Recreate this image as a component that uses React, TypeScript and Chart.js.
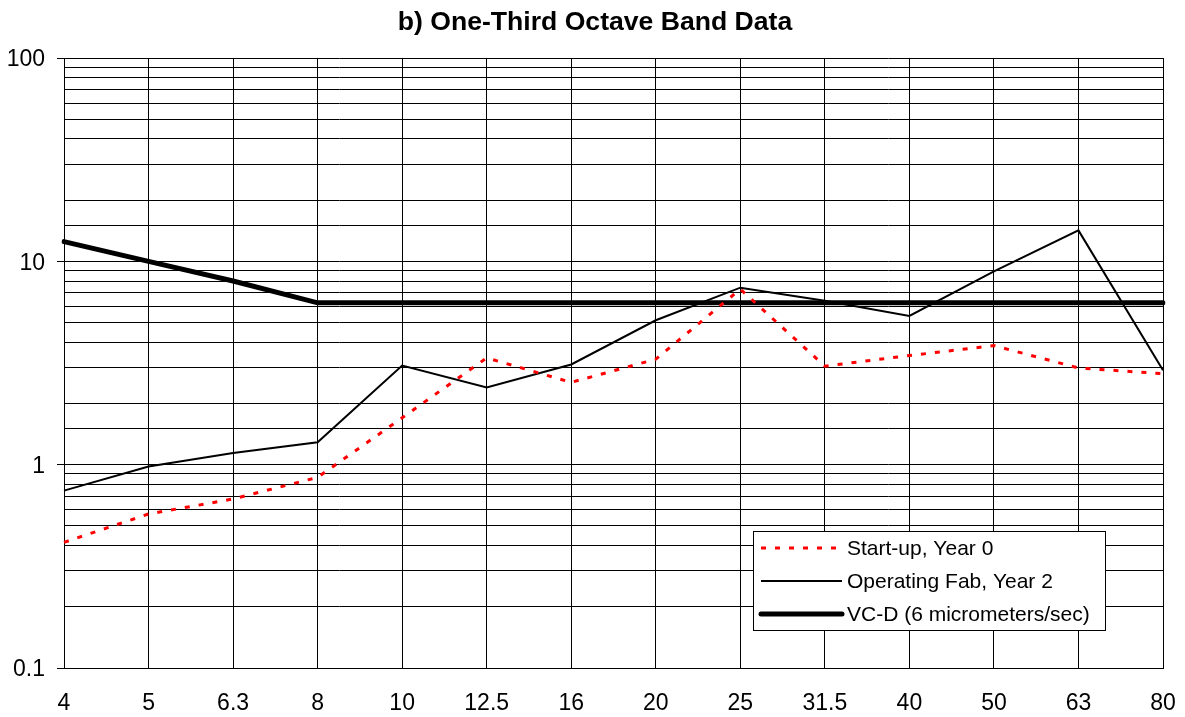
import React, { useEffect, useRef } from "react";
import { Chart, registerables } from "chart.js";

Chart.register(...registerables);

const TITLE = "b) One-Third Octave Band Data";
const frequencies = ["4", "5", "6.3", "8", "10", "12.5", "16", "20", "25", "31.5", "40", "50", "63", "80"];
const startUpYear0 = [0.415, 0.572, 0.678, 0.866, 1.7, 3.35, 2.54, 3.3, 7.3, 3.05, 3.44, 3.85, 2.99, 2.8];
const operatingFabYear2 = [0.745, 0.98, 1.14, 1.29, 3.07, 2.4, 3.11, 5.13, 7.42, 6.4, 5.39, 8.93, 14.2, 2.91];
const vcD = [12.5, 10, 8, 6.25, 6.25, 6.25, 6.25, 6.25, 6.25, 6.25, 6.25, 6.25, 6.25, 6.25];
const seriesNames = ["Start-up, Year 0", "Operating Fab, Year 2", "VC-D (6 micrometers/sec)"];
const yMin = 0.1;
const yMax = 100;

const FONT = "'Liberation Sans', Arial, Helvetica, sans-serif";

const isDecade = (v: number) => {
  const l = Math.log10(v);
  return Math.abs(l - Math.round(l)) < 1e-6;
};

const overlayPlugin = {
  id: "overlay",
  afterDraw(chart: any) {
    const ctx = chart.ctx as CanvasRenderingContext2D;
    ctx.save();
    // Title
    ctx.fillStyle = "#000";
    ctx.font = `bold 26.6px ${FONT}`;
    ctx.textAlign = "center";
    ctx.textBaseline = "middle";
    ctx.fillText(TITLE, 595, 23);

    // Legend
    const bx = 753.5, by = 531.5, bw = 352, bh = 99;
    ctx.fillStyle = "#fff";
    ctx.fillRect(bx, by, bw, bh);
    ctx.strokeStyle = "#000";
    ctx.lineWidth = 1;
    ctx.strokeRect(bx, by, bw, bh);
    const rows = [548, 581, 614];
    const ds = chart.data.datasets;
    ctx.font = `21px ${FONT}`;
    ctx.textAlign = "left";
    ctx.textBaseline = "middle";
    rows.forEach((y, i) => {
      const d = ds[i];
      ctx.beginPath();
      ctx.strokeStyle = d.borderColor;
      ctx.lineWidth = d.borderWidth;
      ctx.lineCap = i === 2 ? "round" : "butt";
      ctx.setLineDash(d.borderDash || []);
      ctx.moveTo(761, y);
      ctx.lineTo(842, y);
      ctx.stroke();
      ctx.setLineDash([]);
      ctx.fillStyle = "#000";
      ctx.fillText(d.label, 847, y + 1);
    });
    ctx.restore();
  },
};

export default function App() {
  const ref = useRef<HTMLCanvasElement | null>(null);
  useEffect(() => {
    document.body.style.margin = "0";
    const canvas = ref.current!;
    const chart = new Chart(canvas, {
      type: "line",
      data: {
        labels: frequencies,
        datasets: [
          {
            label: seriesNames[0],
            data: startUpYear0,
            borderColor: "#ff0000",
            borderWidth: 3,
            borderDash: [5, 9],
            pointRadius: 0,
            tension: 0,
            fill: false,
          },
          {
            label: seriesNames[1],
            data: operatingFabYear2,
            borderColor: "#000000",
            borderWidth: 2,
            pointRadius: 0,
            tension: 0,
            fill: false,
          },
          {
            label: seriesNames[2],
            data: vcD,
            borderColor: "#000000",
            borderWidth: 5,
            borderCapStyle: "round",
            pointRadius: 0,
            tension: 0,
            fill: false,
          },
        ],
      },
      options: {
        animation: false,
        responsive: false,
        devicePixelRatio: 1,
        layout: { padding: { top: 58, right: 22, left: 0, bottom: 0 } },
        plugins: {
          legend: { display: false },
          title: { display: false },
          tooltip: { enabled: false },
        },
        scales: {
          x: {
            type: "category",
            offset: false,
            grid: { color: "#000", lineWidth: 1, drawTicks: false, offset: false },
            border: { color: "#000", width: 1 },
            ticks: {
              color: "#000",
              font: { family: FONT, size: 23 },
              padding: 22,
              maxRotation: 0,
              autoSkip: false,
            },
            afterFit: (s: any) => {
              s.height = 49;
              s.paddingLeft = 0;
              s.paddingRight = 0;
            },
          },
          y: {
            type: "logarithmic",
            min: yMin,
            max: yMax,
            grid: {
              color: "#000",
              lineWidth: 1,
              drawTicks: true,
              tickLength: 7,
              tickColor: (c: any) => (c.tick && isDecade(c.tick.value) ? "#000" : "rgba(0,0,0,0)"),
            },
            border: { color: "#000", width: 1 },
            ticks: {
              color: "#000",
              font: { family: FONT, size: 23 },
              padding: 12,
              labelOffset: 2,
              autoSkip: false,
              callback: (v: any) => {
                const n = Number(v);
                if (!isDecade(n)) return "";
                return n >= 1 ? String(Math.round(n)) : String(n);
              },
            },
            afterFit: (s: any) => {
              s.width = 64;
              s.paddingTop = 0;
              s.paddingBottom = 0;
            },
          },
        },
      },
      plugins: [overlayPlugin],
    } as any);
    return () => chart.destroy();
  }, []);
  return (
    <div>
      <canvas ref={ref} width={1185} height={717} style={{ display: "block", width: 1185, height: 717 }} />
    </div>
  );
}
